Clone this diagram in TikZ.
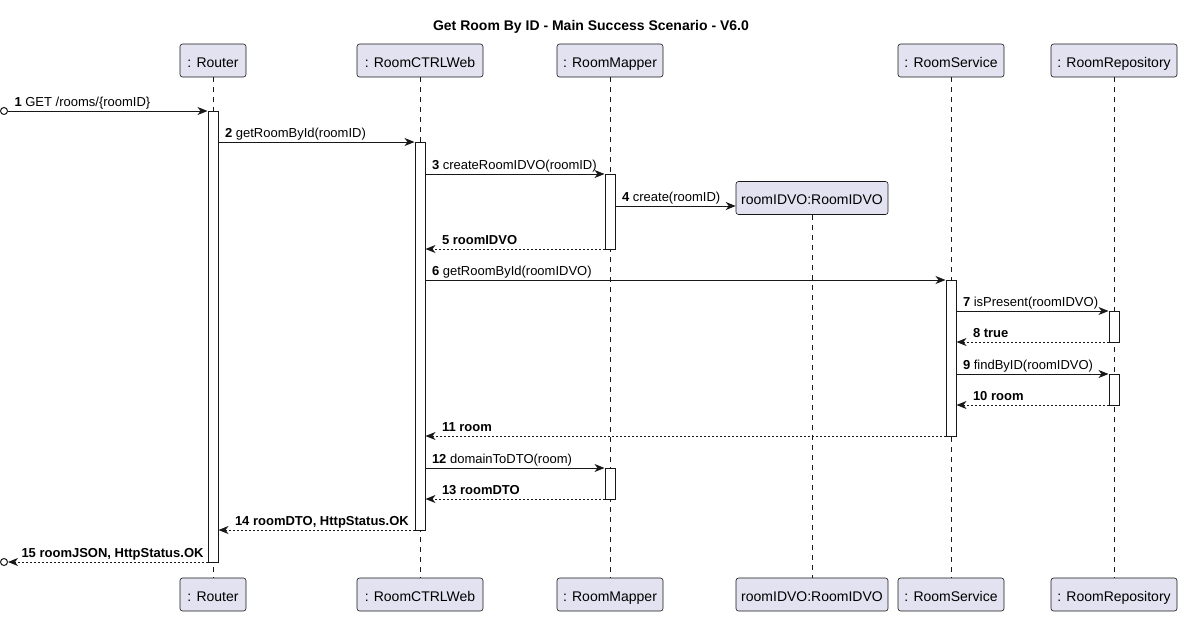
\documentclass[tikz,border=0pt]{standalone}
\usepackage{fontspec}
\setmainfont{Liberation Sans}
\usepackage{xcolor}
\usepackage{tikz}
\usetikzlibrary{arrows.meta, positioning, shapes.geometric}
\definecolor{participantfill}{HTML}{E2E2F0}
\definecolor{participantborder}{HTML}{181818}
\definecolor{arrowcolor}{HTML}{181818}

\begin{document}
\begin{tikzpicture}[
    x=1pt, y=-1pt,
    participant/.style={draw=participantborder, line width=0.6pt, fill=participantfill, rounded corners=2.5pt, minimum height=33pt, inner sep=0pt, text height=13pt, text depth=0pt, font=\fontsize{14}{16}\selectfont},
    lifeline/.style={draw=participantborder, line width=0.5pt, dash pattern=on 5pt off 5pt},
    activation/.style={draw=arrowcolor, line width=1pt, fill=white, minimum width=10pt, inner sep=0pt, anchor=north},
    call/.style={-{Stealth[length=10pt, width=8pt, inset=3pt]}, line width=1pt, draw=arrowcolor},
    reply/.style={call, dash pattern=on 2pt off 2pt},
    msglabel/.style={anchor=base west, inner sep=0pt, yshift=5pt, font=\fontsize{13}{15}\selectfont},
    replylabel/.style={msglabel, font=\fontsize{13}{15}\selectfont\bfseries},
    endpoint/.style={circle, draw=arrowcolor, line width=1pt, minimum size=7pt, inner sep=0pt}
]
    \useasboundingbox (0,0) rectangle (1182,616);

    % Title
    \node[font=\fontsize{14}{16}\selectfont\bfseries] (title) at (591,26.5) {Get Room By ID - Main Success Scenario - V6.0};

    % Participants
    \node[participant, minimum width=66pt] (rtr) at (213,60.5) {: Router};
    \node[participant, minimum width=126pt] (ctrl) at (420,60.5) {: RoomCTRLWeb};
    \node[participant, minimum width=106pt] (mapper) at (610,60.5) {: RoomMapper};
    \node[participant, minimum width=106pt] (service) at (951,60.5) {: RoomService};
    \node[participant, minimum width=126pt] (repo) at (1114,60.5) {: RoomRepository};
    \node[participant, minimum width=152pt] (vo) at (812,198) {roomIDVO:RoomIDVO};

    \node[participant, minimum width=66pt] (rtrB) at (213,594.5) {: Router};
    \node[participant, minimum width=126pt] (ctrlB) at (420,594.5) {: RoomCTRLWeb};
    \node[participant, minimum width=106pt] (mapperB) at (610,594.5) {: RoomMapper};
    \node[participant, minimum width=152pt] (voB) at (812,594.5) {roomIDVO:RoomIDVO};
    \node[participant, minimum width=106pt] (serviceB) at (951,594.5) {: RoomService};
    \node[participant, minimum width=126pt] (repoB) at (1114,594.5) {: RoomRepository};

    % Lifelines
    \draw[lifeline] (rtr) -- (rtrB);
    \draw[lifeline] (ctrl) -- (ctrlB);
    \draw[lifeline] (mapper) -- (mapperB);
    \draw[lifeline] (vo) -- (voB);
    \draw[lifeline] (service) -- (serviceB);
    \draw[lifeline] (repo) -- (repoB);

    % Activations
    \node[activation, minimum height=451pt] (rtrA) at (213,111) {};
    \node[activation, minimum height=388pt] (ctrlA) at (420,142) {};
    \node[activation, minimum height=75pt] (mapperA1) at (610,174) {};
    \node[activation, minimum height=156pt] (serviceA) at (951,280) {};
    \node[activation, minimum height=31pt] (repoA1) at (1114,311) {};
    \node[activation, minimum height=31pt] (repoA2) at (1114,374) {};
    \node[activation, minimum height=31pt] (mapperA2) at (610,468) {};

    % Messages
    \node[endpoint] (client) at (4,111) {};
    \node[endpoint] (clientB) at (4,562) {};
    \draw[call] (client) -- (rtrA.west |- client) node[msglabel, at start, xshift=6pt] {\textbf{1} GET /rooms/\{roomID\}};
    \draw[call] (rtrA.east |- 0,142) -- (ctrlA.west |- 0,142) node[msglabel, at start, xshift=6pt] {\textbf{2} getRoomById(roomID)};
    \draw[call] (ctrlA.east |- 0,174) -- (mapperA1.west |- 0,174) node[msglabel, at start, xshift=6pt] {\textbf{3} createRoomIDVO(roomID)};
    \draw[call] (mapperA1.east |- 0,206) -- (vo.west |- 0,206) node[msglabel, at start, xshift=6pt] {\textbf{4} create(roomID)};
    \draw[reply] (mapperA1.west |- 0,249) -- (ctrlA.east |- 0,249) node[replylabel, at end, xshift=16pt] {5 roomIDVO};
    \draw[call] (ctrlA.east |- 0,280) -- (serviceA.west |- 0,280) node[msglabel, at start, xshift=6pt] {\textbf{6} getRoomById(roomIDVO)};
    \draw[call] (serviceA.east |- 0,311) -- (repoA1.west |- 0,311) node[msglabel, at start, xshift=6pt] {\textbf{7} isPresent(roomIDVO)};
    \draw[reply] (repoA1.west |- 0,342) -- (serviceA.east |- 0,342) node[replylabel, at end, xshift=16pt] {8 true};
    \draw[call] (serviceA.east |- 0,374) -- (repoA2.west |- 0,374) node[msglabel, at start, xshift=6pt] {\textbf{9} findByID(roomIDVO)};
    \draw[reply] (repoA2.west |- 0,405) -- (serviceA.east |- 0,405) node[replylabel, at end, xshift=16pt] {10 room};
    \draw[reply] (serviceA.west |- 0,436) -- (ctrlA.east |- 0,436) node[replylabel, at end, xshift=16pt] {11 room};
    \draw[call] (ctrlA.east |- 0,468) -- (mapperA2.west |- 0,468) node[msglabel, at start, xshift=6pt] {\textbf{12} domainToDTO(room)};
    \draw[reply] (mapperA2.west |- 0,499) -- (ctrlA.east |- 0,499) node[replylabel, at end, xshift=16pt] {13 roomDTO};
    \draw[reply] (ctrlA.west |- 0,530) -- (rtrA.east |- 0,530) node[replylabel, at end, xshift=16pt] {14 roomDTO, HttpStatus.OK};
    \draw[reply] (rtrA.west |- clientB) -- (clientB) node[replylabel, at end, xshift=13pt] {15 roomJSON, HttpStatus.OK};
\end{tikzpicture}
\end{document}
